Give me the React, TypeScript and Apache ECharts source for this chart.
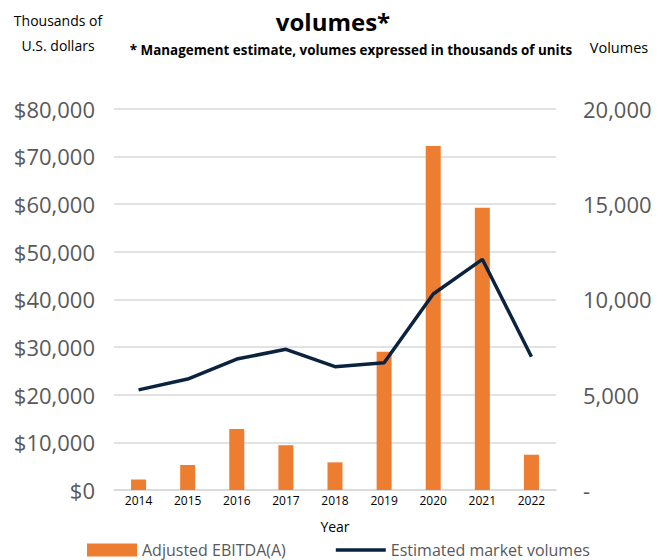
import React, { useEffect, useRef } from "react";
import * as echarts from "echarts";

const years = ["2014", "2015", "2016", "2017", "2018", "2019", "2020", "2021", "2022"];
const ebitda = [2200, 5250, 12800, 9400, 5800, 29000, 72200, 59200, 7400];
const volumes = [5250, 5820, 6870, 7380, 6470, 6680, 10280, 12100, 6990];
const leftTicks = { min: 0, max: 80000, interval: 10000 };
const rightTicks = { min: 0, max: 20000, interval: 5000 };

const FONT = '"Open Sans", "Liberation Sans", sans-serif';

export default function App() {
  const ref = useRef<HTMLDivElement>(null);
  useEffect(() => {
    document.body.style.margin = "0";
    const chart = echarts.init(ref.current!, null, { renderer: "svg" });
    chart.setOption({
      animation: false,
      textStyle: { fontFamily: FONT },
      graphic: [
        { type: "text", x: 333, y: 21, style: { text: "volumes*", fontSize: 24, fontWeight: "bold", fontFamily: FONT, fill: "#000", align: "center", verticalAlign: "middle" } },
        { type: "text", x: 351, y: 50, style: { text: "* Management estimate, volumes expressed in thousands of units", fontSize: 13.4, fontWeight: "bold", fontFamily: FONT, fill: "#000", align: "center", verticalAlign: "middle" } },
        { type: "text", x: 58, y: 20, style: { text: "Thousands of", fontSize: 14, fontFamily: FONT, fill: "#000", align: "center", verticalAlign: "middle" } },
        { type: "text", x: 58, y: 45, style: { text: "U.S. dollars", fontSize: 14, fontFamily: FONT, fill: "#000", align: "center", verticalAlign: "middle" } },
        { type: "text", x: 619, y: 47, style: { text: "Volumes", fontSize: 14.5, fontFamily: FONT, fill: "#000", align: "center", verticalAlign: "middle" } },
      ],
      legend: {
        left: 82,
        top: 537,
        itemWidth: 50,
        itemHeight: 13,
        itemGap: 50,
        textStyle: { fontSize: 16, color: "#595959", fontFamily: FONT },
        data: [
          { name: "Adjusted EBITDA(A)", icon: "rect" },
          { name: "Estimated market volumes", icon: "path://M0,0H54V4H0Z", itemStyle: { color: "#0C2340" } },
        ],
      },
      grid: { left: 114, right: 107, top: 108.7, bottom: 70, containLabel: false },
      xAxis: {
        type: "category",
        data: years,
        name: "Year",
        nameLocation: "middle",
        nameGap: 29,
        nameTextStyle: { fontSize: 14, color: "#000", fontFamily: FONT },
        axisTick: { show: false },
        axisLine: { lineStyle: { color: "#d9d9d9", width: 1.5 } },
        axisLabel: { fontSize: 12, color: "#000", margin: 4, fontFamily: FONT },
      },
      yAxis: [
        {
          type: "value",
          ...leftTicks,
          axisLabel: {
            fontSize: 22,
            color: "#595959",
            margin: 19,
            fontFamily: FONT,
            formatter: (v: number) => "$" + v.toLocaleString("en-US"),
          },
          splitLine: { lineStyle: { color: "#d9d9d9", width: 1.5 } },
          axisLine: { show: false },
          axisTick: { show: false },
        },
        {
          type: "value",
          ...rightTicks,
          position: "right",
          axisLabel: {
            fontSize: 22,
            color: "#595959",
            margin: 27,
            fontFamily: FONT,
            formatter: (v: number) => (v === 0 ? "-" : v.toLocaleString("en-US")),
          },
          splitLine: { show: false },
          axisLine: { show: false },
          axisTick: { show: false },
        },
      ],
      series: [
        {
          name: "Adjusted EBITDA(A)",
          type: "bar",
          data: ebitda,
          yAxisIndex: 0,
          barWidth: 15,
          itemStyle: { color: "#ED7D31" },
        },
        {
          name: "Estimated market volumes",
          type: "line",
          data: volumes,
          yAxisIndex: 1,
          symbol: "none",
          lineStyle: { color: "#0C2340", width: 3.5 },
          itemStyle: { color: "#0C2340" },
        },
      ],
    });
    return () => chart.dispose();
  }, []);
  return <div ref={ref} style={{ width: 663, height: 560 }} />;
}
